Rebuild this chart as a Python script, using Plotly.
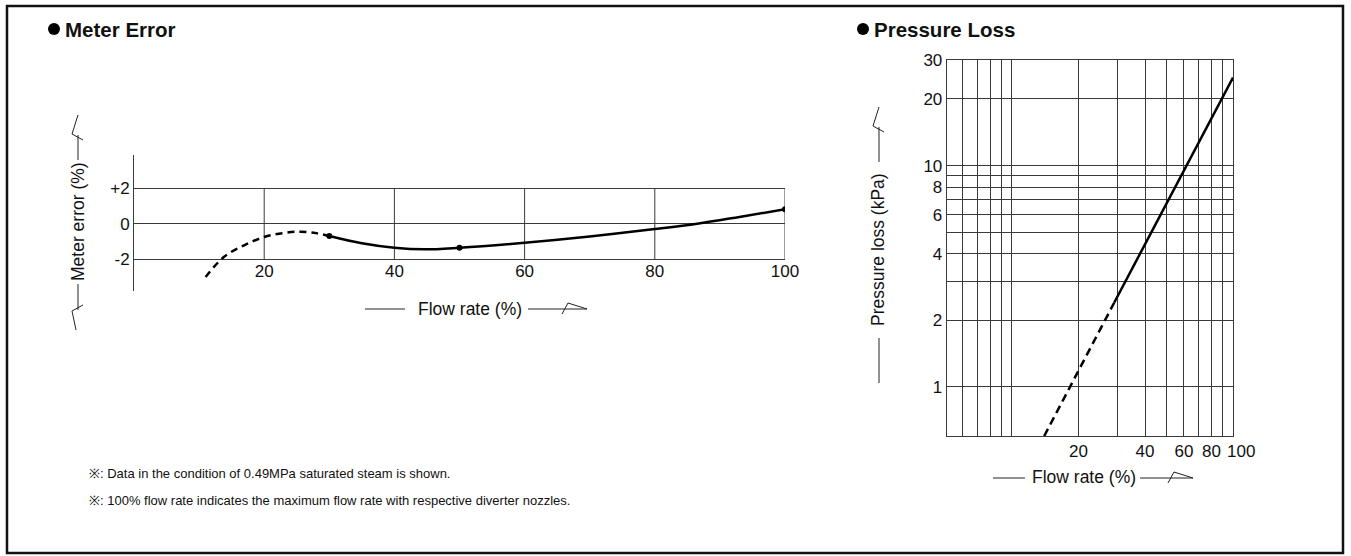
import math
import plotly.graph_objects as go

# ---------------- data ----------------
# Meter error chart (x: flow rate %, y: meter error %)
me_dash_x = [11, 13.8, 17, 20, 23, 25.6, 28, 30]
me_dash_y = [-3.0, -1.87, -1.2, -0.75, -0.52, -0.45, -0.53, -0.69]
me_solid_x = [30, 35, 40, 44.6, 50, 60, 70, 80, 86.5, 93, 100]
me_solid_y = [-0.69, -1.1, -1.35, -1.44, -1.35, -1.07, -0.72, -0.30, 0.0, 0.38, 0.81]
me_dot_x = [30, 50, 100]
me_dot_y = [-0.69, -1.35, 0.81]
me_xticks = [20, 40, 60, 80, 100]
me_yticks = [-2, 0, 2]
me_yticktext = ["-2", "0", "+2"]

# Pressure loss chart (log-log)
pl_dash_x = [14, 29]
pl_dash_y = [0.6, 2.4]
pl_solid_x = [29, 100]
pl_solid_y = [2.4, 25]
pl_xticks = [20, 40, 60, 80, 100]
pl_xticktext = ["20", "40", "60", "80", ""]   # "100" drawn slightly to the right below
pl_last_label = "100"
pl_xminor = [6, 7, 8, 9, 10, 30, 50, 70, 90]
pl_yticks = [1, 2, 4, 6, 8, 10, 20, 30]
pl_yminor = [3, 5, 7, 9]

notes = [
    "※: Data in the condition of 0.49MPa saturated steam is shown.",
    "※: 100% flow rate indicates the maximum flow rate with respective diverter nozzles.",
]

# ---------------- layout helpers ----------------
W, H = 1351, 556
FONT = "Liberation Sans, Arial, Helvetica, sans-serif"
GRID = "#3a3a3a"
INK = "#111111"


def px(x):
    return x / W


def py(y):
    return 1 - y / H


shapes = []


def seg(x0, y0, x1, y1, w=1, color="#222"):
    shapes.append(dict(type="line", xref="paper", yref="paper",
                       x0=px(x0), y0=py(y0), x1=px(x1), y1=py(y1),
                       line=dict(color=color, width=w)))


def arrow_right(x_start, x_end, y):
    seg(x_start, y, x_end, y)
    seg(x_end - 25, y + 5, x_end - 19, y - 6)
    seg(x_end - 19, y - 6, x_end, y)


def arrow_up(x, y_start, y_end):
    seg(x, y_start, x, y_end + 20)
    seg(x + 5, y_end + 25, x - 6, y_end + 19)
    seg(x - 6, y_end + 19, x, y_end)


def arrow_down(x, y_start, y_end):
    seg(x, y_start, x, y_end - 20)
    seg(x + 5, y_end - 25, x - 6, y_end - 19)
    seg(x - 6, y_end - 19, x - 2, y_end)


def bullet(cx, cy, r):
    shapes.append(dict(type="circle", xref="paper", yref="paper",
                       x0=px(cx - r), x1=px(cx + r), y0=py(cy + r), y1=py(cy - r),
                       fillcolor="black", line=dict(width=0)))


fig = go.Figure()

# vertical grid segments of meter error chart (only between -2 and +2)
gx, gy = [], []
for v in me_xticks:
    gx += [v, v, None]
    gy += [min(me_yticks), max(me_yticks), None]
fig.add_trace(go.Scatter(x=gx, y=gy, mode="lines", line=dict(color=GRID, width=1),
                         hoverinfo="skip", showlegend=False, xaxis="x", yaxis="y"))

fig.add_trace(go.Scatter(x=me_dash_x, y=me_dash_y, mode="lines",
                         line=dict(color="black", width=2.5, dash="7px,5px", shape="spline"),
                         hoverinfo="skip", showlegend=False, xaxis="x", yaxis="y"))
fig.add_trace(go.Scatter(x=me_solid_x, y=me_solid_y, mode="lines",
                         line=dict(color="black", width=2.5, shape="spline"),
                         hoverinfo="skip", showlegend=False, xaxis="x", yaxis="y"))
fig.add_trace(go.Scatter(x=me_dot_x, y=me_dot_y, mode="markers",
                         marker=dict(color="black", size=6),
                         hoverinfo="skip", showlegend=False, xaxis="x", yaxis="y"))

fig.add_trace(go.Scatter(x=pl_dash_x, y=pl_dash_y, mode="lines",
                         line=dict(color="black", width=2.5, dash="8px,5px"),
                         hoverinfo="skip", showlegend=False, xaxis="x2", yaxis="y2"))
fig.add_trace(go.Scatter(x=pl_solid_x, y=pl_solid_y, mode="lines",
                         line=dict(color="black", width=2.5),
                         hoverinfo="skip", showlegend=False, xaxis="x2", yaxis="y2"))

# axes
me_y_top, me_y_bot = 155, 291
me_scale = 17.8
me_zero = 223.7
me_range = [-(me_y_bot - me_zero) / me_scale, (me_zero - me_y_top) / me_scale]

pl_left, pl_right, pl_top, pl_bot = 946.7, 1233, 60, 436

fig.update_layout(
    width=W, height=H, autosize=False,
    margin=dict(l=0, r=0, t=0, b=0, pad=0, autoexpand=False),
    paper_bgcolor="white", plot_bgcolor="rgba(0,0,0,0)",
    font=dict(family=FONT, size=17, color=INK),
    showlegend=False,
    hovermode=False,
    xaxis=dict(domain=[px(134), px(785)], range=[0, 100], automargin=False,
               tickmode="array", tickvals=me_xticks, ticktext=[str(v) for v in me_xticks],
               showgrid=False, zeroline=False, showline=False, ticks="", tickangle=0,
               anchor="free", position=py(me_zero + 2 * me_scale),
               tickfont=dict(size=17, color=INK), fixedrange=True),
    yaxis=dict(domain=[py(me_y_bot), py(me_y_top)], range=me_range, automargin=False,
               tickmode="array", tickvals=me_yticks, ticktext=me_yticktext,
               showgrid=True, gridcolor=GRID, gridwidth=1, zeroline=False,
               showline=True, linecolor=GRID, linewidth=1, ticks="",
               anchor="x", tickfont=dict(size=17, color=INK), fixedrange=True),
    xaxis2=dict(type="log", domain=[px(pl_left), px(pl_right)], automargin=False,
                range=[math.log10(5.07), 2],
                tickmode="array", tickvals=pl_xticks, ticktext=pl_xticktext,
                showgrid=True, gridcolor=GRID, gridwidth=1, tickangle=0,
                minor=dict(tickmode="array", tickvals=pl_xminor, showgrid=True,
                           gridcolor=GRID, gridwidth=1, ticks=""),
                zeroline=False, showline=True, mirror=True, linecolor=GRID, linewidth=1,
                ticks="", anchor="y2", tickfont=dict(size=17, color=INK), fixedrange=True),
    yaxis2=dict(type="log", domain=[py(pl_bot), py(pl_top)], automargin=False,
                range=[math.log10(0.6), math.log10(30)],
                tickmode="array", tickvals=pl_yticks, ticktext=[str(v) for v in pl_yticks],
                showgrid=True, gridcolor=GRID, gridwidth=1,
                minor=dict(tickmode="array", tickvals=pl_yminor, showgrid=True,
                           gridcolor=GRID, gridwidth=1, ticks=""),
                zeroline=False, showline=True, mirror=True, linecolor=GRID, linewidth=1,
                ticks="", anchor="x2", tickfont=dict(size=17, color=INK), fixedrange=True),
)

annotations = []


def text(x, y, s, size=17, xanchor="center", angle=0, bold=False, family=FONT):
    annotations.append(dict(xref="paper", yref="paper", x=px(x), y=py(y), text=(f"<b>{s}</b>" if bold else s),
                            showarrow=False, xanchor=xanchor, yanchor="middle", textangle=angle,
                            font=dict(family=family, size=size, color=INK)))


# titles
bullet(54, 29, 6)
text(63, 29, "Meter Error", size=20.5, xanchor="left", bold=True)
bullet(863, 29, 6)
text(872, 29, "Pressure Loss", size=20.5, xanchor="left", bold=True)

# last tick label of the log axis, nudged right as in the original
text(1241, 451, pl_last_label, size=17)

# axis titles
text(470, 309, "Flow rate (%)", size=17.5)
arrow_right(528, 587, 309)
seg(365, 309, 405, 309)

text(78, 222, "Meter error (%)", size=17.5, angle=-90)
arrow_up(78, 160, 115)
arrow_down(78, 284, 330)

text(1084, 477, "Flow rate (%)", size=17.5)
arrow_right(1140, 1193, 478)
seg(993, 478, 1025, 478)

text(878, 250, "Pressure loss (kPa)", size=17.5, angle=-90)
arrow_up(879, 162, 107)
seg(879, 338, 879, 383)

# notes
text(87, 473, notes[0], size=13, xanchor="left")
text(87, 500, notes[1], size=13, xanchor="left")

# outer border
shapes.append(dict(type="rect", xref="paper", yref="paper",
                   x0=px(7), y0=py(553), x1=px(1343), y1=py(6),
                   line=dict(color="#111", width=2.5)))

fig.update_layout(shapes=shapes, annotations=annotations)

fig.write_html(
    "out.html",
    config=dict(displayModeBar=False, staticPlot=True),
    post_script=(
        "document.documentElement.style.margin='0';"
        "document.documentElement.style.padding='0';"
        "document.documentElement.style.overflow='hidden';"
        "document.body.style.margin='0';document.body.style.padding='0';"
        "document.body.style.overflow='hidden';"
        "var gd=document.getElementById('{plot_id}');"
        "gd.style.position='fixed';gd.style.left='0px';gd.style.top='0px';"
    ),
)
